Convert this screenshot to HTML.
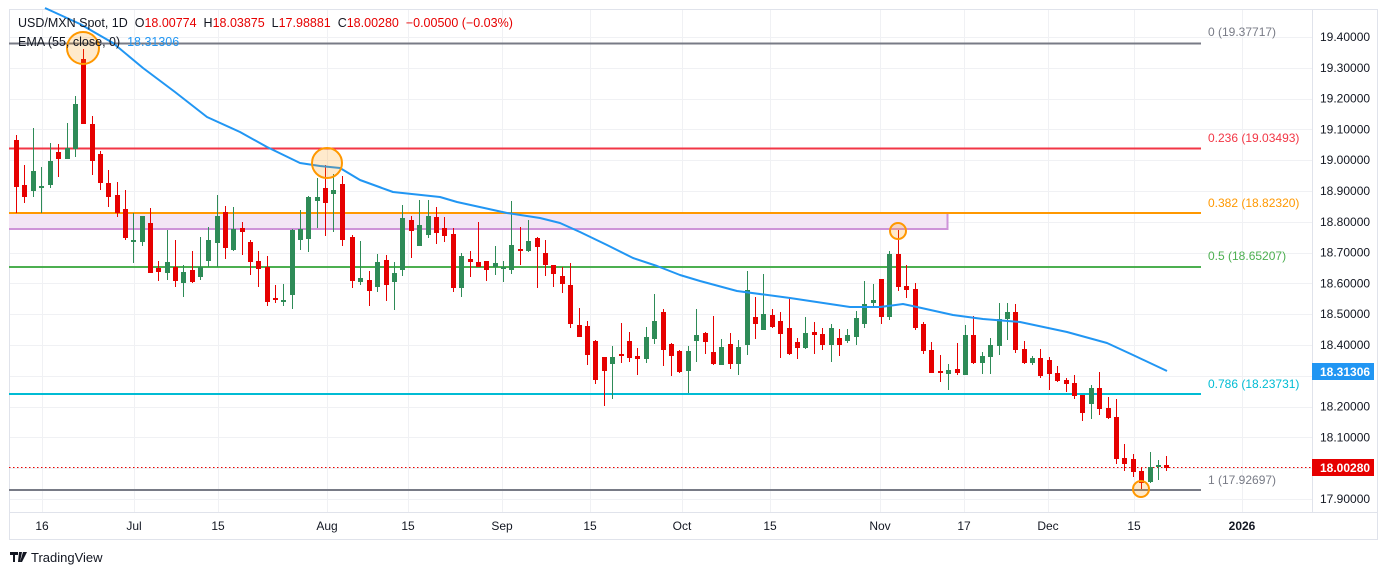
<!DOCTYPE html>
<html><head><meta charset="utf-8">
<style>
html,body{margin:0;padding:0;background:#fff;}
svg{display:block;font-family:"Liberation Sans",sans-serif;}
.pre{white-space:pre;}
</style></head>
<body>
<svg id="c" width="1388" height="575" viewBox="0 0 1388 575" xmlns="http://www.w3.org/2000/svg">
<rect x="9.5" y="9.5" width="1368" height="530" fill="#fff" stroke="#e0e3eb"/>
<g id="grid" stroke="#f0f1f4" stroke-width="1"></g>
<line x1="10" y1="512.5" x2="1377" y2="512.5" stroke="#e0e3eb"/>
<line x1="1312.5" y1="10" x2="1312.5" y2="512" stroke="#e0e3eb"/>
<rect x="9" y="213" width="939" height="16" fill="#f3e5f5" stroke="none"/>
<line x1="9" y1="229" x2="948" y2="229" stroke="#ce93d8" stroke-width="2"/>
<line x1="947.5" y1="213" x2="947.5" y2="230" stroke="#ce93d8" stroke-width="2"/>
<line x1="9" y1="43.5" x2="1201" y2="43.5" stroke="#787b86" stroke-width="2"/>
<line x1="9" y1="148.5" x2="1201" y2="148.5" stroke="#f23645" stroke-width="2"/>
<line x1="9" y1="213" x2="1201" y2="213" stroke="#ff9800" stroke-width="2"/>
<line x1="9" y1="267" x2="1201" y2="267" stroke="#4caf50" stroke-width="2"/>
<line x1="9" y1="394" x2="1201" y2="394" stroke="#00bcd4" stroke-width="2"/>
<line x1="9" y1="490" x2="1201" y2="490" stroke="#787b86" stroke-width="2"/>
<g font-size="12">
<text x="1208" y="36" fill="#787b86">0 (19.37717)</text>
<text x="1208" y="142" fill="#f23645">0.236 (19.03493)</text>
<text x="1208" y="207" fill="#ff9800">0.382 (18.82320)</text>
<text x="1208" y="260" fill="#4caf50">0.5 (18.65207)</text>
<text x="1208" y="388" fill="#00bcd4">0.786 (18.23731)</text>
<text x="1208" y="484" fill="#787b86">1 (17.92697)</text>
</g>
<line x1="9" y1="467.5" x2="1312" y2="467.5" stroke="#e60000" stroke-dasharray="1.5,2.5"/>
<g id="cand"></g>
<polyline fill="none" stroke="#2196f3" stroke-width="2" stroke-linejoin="round" points="45,8 80,24 113,43 143,68 175,92 207,117 240,132 267,147 300,163 320,166 340,168 360,180 393,192 440,197 457,202 507,213 540,218 560,223 580,232 607,245 633,258 657,266 680,275 700,281 737,291 790,298 850,307 880,307 903,304 917,307 953,315 983,319 1020,322 1067,332 1107,343 1133,355 1167,371"/>
<g fill="rgba(255,152,0,0.2)" stroke="#ff9800" stroke-width="2">
<circle cx="83" cy="48" r="16"/>
<circle cx="327" cy="163" r="15"/>
<circle cx="898" cy="231" r="8"/>
<circle cx="1141" cy="489" r="8"/>
</g>
<g font-size="12.5" class="pre">
<text x="18" y="27" fill="#131722" class="pre">USD/MXN Spot, 1D  O<tspan fill="#e60000">18.00774</tspan>  H<tspan fill="#e60000">18.03875</tspan>  L<tspan fill="#e60000">17.98881</tspan>  C<tspan fill="#e60000">18.00280</tspan>  <tspan fill="#e60000">−0.00500 (−0.03%)</tspan></text>
<text x="18" y="46" fill="#131722" class="pre">EMA (55, close, 0)  <tspan fill="#2196f3">18.31306</tspan></text>
</g>
<g id="yax" font-size="12" fill="#131722"></g>
<rect x="1312" y="363" width="62" height="17" fill="#2196f3"/>
<text x="1320" y="376" font-size="12" fill="#fff" font-weight="bold">18.31306</text>
<rect x="1312" y="459" width="62" height="17" fill="#e60000"/>
<text x="1320" y="472" font-size="12" fill="#fff" font-weight="bold">18.00280</text>
<g font-size="12" fill="#131722" text-anchor="middle">
<text x="42" y="530">16</text><text x="134" y="530">Jul</text><text x="218" y="530">15</text><text x="327" y="530">Aug</text><text x="408" y="530">15</text><text x="502" y="530">Sep</text><text x="590" y="530">15</text><text x="682" y="530">Oct</text><text x="770" y="530">15</text><text x="880" y="530">Nov</text><text x="964" y="530">17</text><text x="1048" y="530">Dec</text><text x="1134" y="530">15</text><text x="1242" y="530" font-weight="bold">2026</text>
</g>
<g>
<path d="M10 552h8v3h-3v7h-2v-7h-3z M19 552h3l-2 10h-2z M23 552h4l-5 10h-2z" fill="#131722"/>
<text x="31" y="562" font-size="13" fill="#131722">TradingView</text>
</g>
</svg>
<script>
var ns="http://www.w3.org/2000/svg";
function el(t,a,p){var e=document.createElementNS(ns,t);for(var k in a)e.setAttribute(k,a[k]);p.appendChild(e);return e;}
var grid=document.getElementById('grid');
[42,134,218,327,408,502,590,682,770,880,964,1048,1134,1242].forEach(function(x){el('line',{x1:x+.5,y1:10,x2:x+.5,y2:512},grid);});
var yax=document.getElementById('yax');
for(var i=0;i<16;i++){var p=19.4-i*0.1;var y=37+i*30.8;
 el('line',{x1:10,y1:Math.round(y)+.5,x2:1312,y2:Math.round(y)+.5},grid);
 if(Math.abs(y-371)>10&&Math.abs(y-467)>10&&y<505){var t=el('text',{x:1320,y:y+4},yax);t.textContent=p.toFixed(5);}
}
var C=[[16,'r',140,187,135,213],[24,'r',185,197,165,203],[33,'g',171,191,128,197],[41,'g',186,188,167,213],[50,'g',161,185,143,188],[58,'r',152,159,144,177],[67,'g',148,159,123,157],[75,'g',104,149,96,157],[83,'r',59,124,49,124],[92,'r',124,161,116,175],[100,'r',154,183,151,190],[108,'r',183,197,170,207],[117,'r',195,213,182,217],[125,'r',209,238,190,240],[133,'g',240,242,213,263],[142,'g',216,242,216,246],[150,'r',223,273,208,273],[158,'r',268,272,261,281],[167,'g',262,273,230,280],[175,'r',267,281,240,287],[183,'g',272,283,265,297],[192,'r',270,282,251,283],[200,'g',267,277,237,280],[208,'g',240,261,227,267],[217,'g',216,243,195,267],[225,'r',212,248,206,259],[233,'g',229,250,207,251],[242,'r',228,232,222,255],[250,'r',242,262,240,275],[258,'r',261,269,251,287],[267,'r',267,302,256,306],[275,'r',298,300,285,303],[283,'g',300,302,284,306],[292,'g',230,295,229,309],[300,'g',229,240,210,250],[308,'g',197,239,196,252],[317,'g',197,201,178,228],[325,'r',188,203,165,236],[333,'g',190,194,174,232],[342,'r',184,240,176,246],
[352,'r',237,281,235,288],[360,'g',278,282,241,285],[369,'r',280,291,271,306],[377,'g',262,287,254,292],[386,'r',260,285,255,301],[394,'g',273,282,262,310],[402,'g',218,270,205,276],[411,'r',220,231,216,258],[419,'g',225,246,200,246],[428,'g',216,235,200,238],[436,'r',217,233,207,244],[444,'r',228,236,217,242],[453,'r',234,288,228,292],[461,'g',256,288,253,297],[470,'r',259,262,251,277],[478,'r',262,267,222,267],[486,'r',261,270,261,281],[495,'g',263,267,246,275],[503,'g',267,269,261,282],[511,'g',245,270,201,274],[520,'r',249,251,227,265],[528,'g',241,251,220,252],[537,'r',238,247,237,288],[545,'r',253,265,240,276],[553,'r',265,274,265,287],[562,'r',276,284,267,293],[570,'r',285,324,263,328],[579,'r',325,337,308,337],[587,'r',326,355,321,365],[595,'r',341,380,340,384],[604,'r',357,371,357,406],[612,'g',357,364,346,399],[621,'r',354,356,323,363],[629,'r',341,358,332,362],[637,'r',356,359,348,375],[646,'g',337,359,327,363],[654,'g',321,339,294,344],[663,'r',312,350,309,366],[671,'r',344,356,343,376],[679,'r',351,372,350,373],[688,'g',351,371,346,393],[696,'g',335,341,309,362],
[705,'r',333,342,332,354],[713,'r',352,364,316,365],[721,'g',347,365,339,365],[730,'r',344,364,333,369],[738,'g',347,364,340,375],[747,'g',290,345,271,355],[755,'r',317,324,297,339],[763,'g',314,330,274,330],[772,'r',315,327,309,328],[780,'r',321,334,312,358],[789,'r',328,354,297,355],[797,'r',342,348,338,359],[805,'g',333,348,317,349],[814,'r',332,335,322,354],[822,'r',334,345,328,350],[831,'g',328,345,324,362],[839,'r',338,345,329,356],[847,'g',335,341,329,343],[856,'g',318,337,311,345],[864,'g',304,324,281,328],[873,'g',300,303,284,307],[881,'r',279,317,279,324],[889,'g',254,317,251,320],[898,'r',254,287,230,291],[906,'r',286,290,265,298],[915,'r',289,328,283,330],[923,'r',324,351,322,354],[931,'r',350,373,342,373],[940,'r',371,373,355,382],[948,'g',370,374,364,390],[957,'r',369,373,343,375],[965,'g',335,375,325,375],[973,'r',335,363,316,364],[982,'g',356,363,352,374],[990,'g',345,357,338,374],[999,'g',319,346,303,355],[1007,'g',312,319,303,340],[1015,'r',312,350,304,353],
[1024,'r',349,363,341,364],[1032,'g',358,363,356,365],[1040,'r',358,376,349,378],[1049,'r',360,374,357,390],[1057,'r',373,381,366,382],[1066,'r',380,384,378,392],[1074,'r',383,396,375,399],[1082,'r',395,413,395,421],[1091,'g',388,404,385,419],[1099,'r',388,409,372,415],[1108,'r',408,418,397,419],[1116,'r',417,459,399,464],[1124,'r',458,464,444,471],[1133,'r',459,472,454,477],[1141,'r',471,483,467,489],[1150,'g',467,482,452,483],[1158,'g',465,467,460,480],[1166,'r',465,468,456,471]];
var g=document.getElementById('cand');
C.forEach(function(c){var col=c[1]=='g'?'#2e8b57':'#e60000';
 el('line',{x1:c[0]+.5,y1:c[4],x2:c[0]+.5,y2:c[5],stroke:col,'stroke-width':1},g);
 var h=Math.max(1.5,c[3]-c[2]);
 el('rect',{x:c[0]-2,y:c[2],width:5,height:h,fill:col},g);
});
</script>
</body></html>
